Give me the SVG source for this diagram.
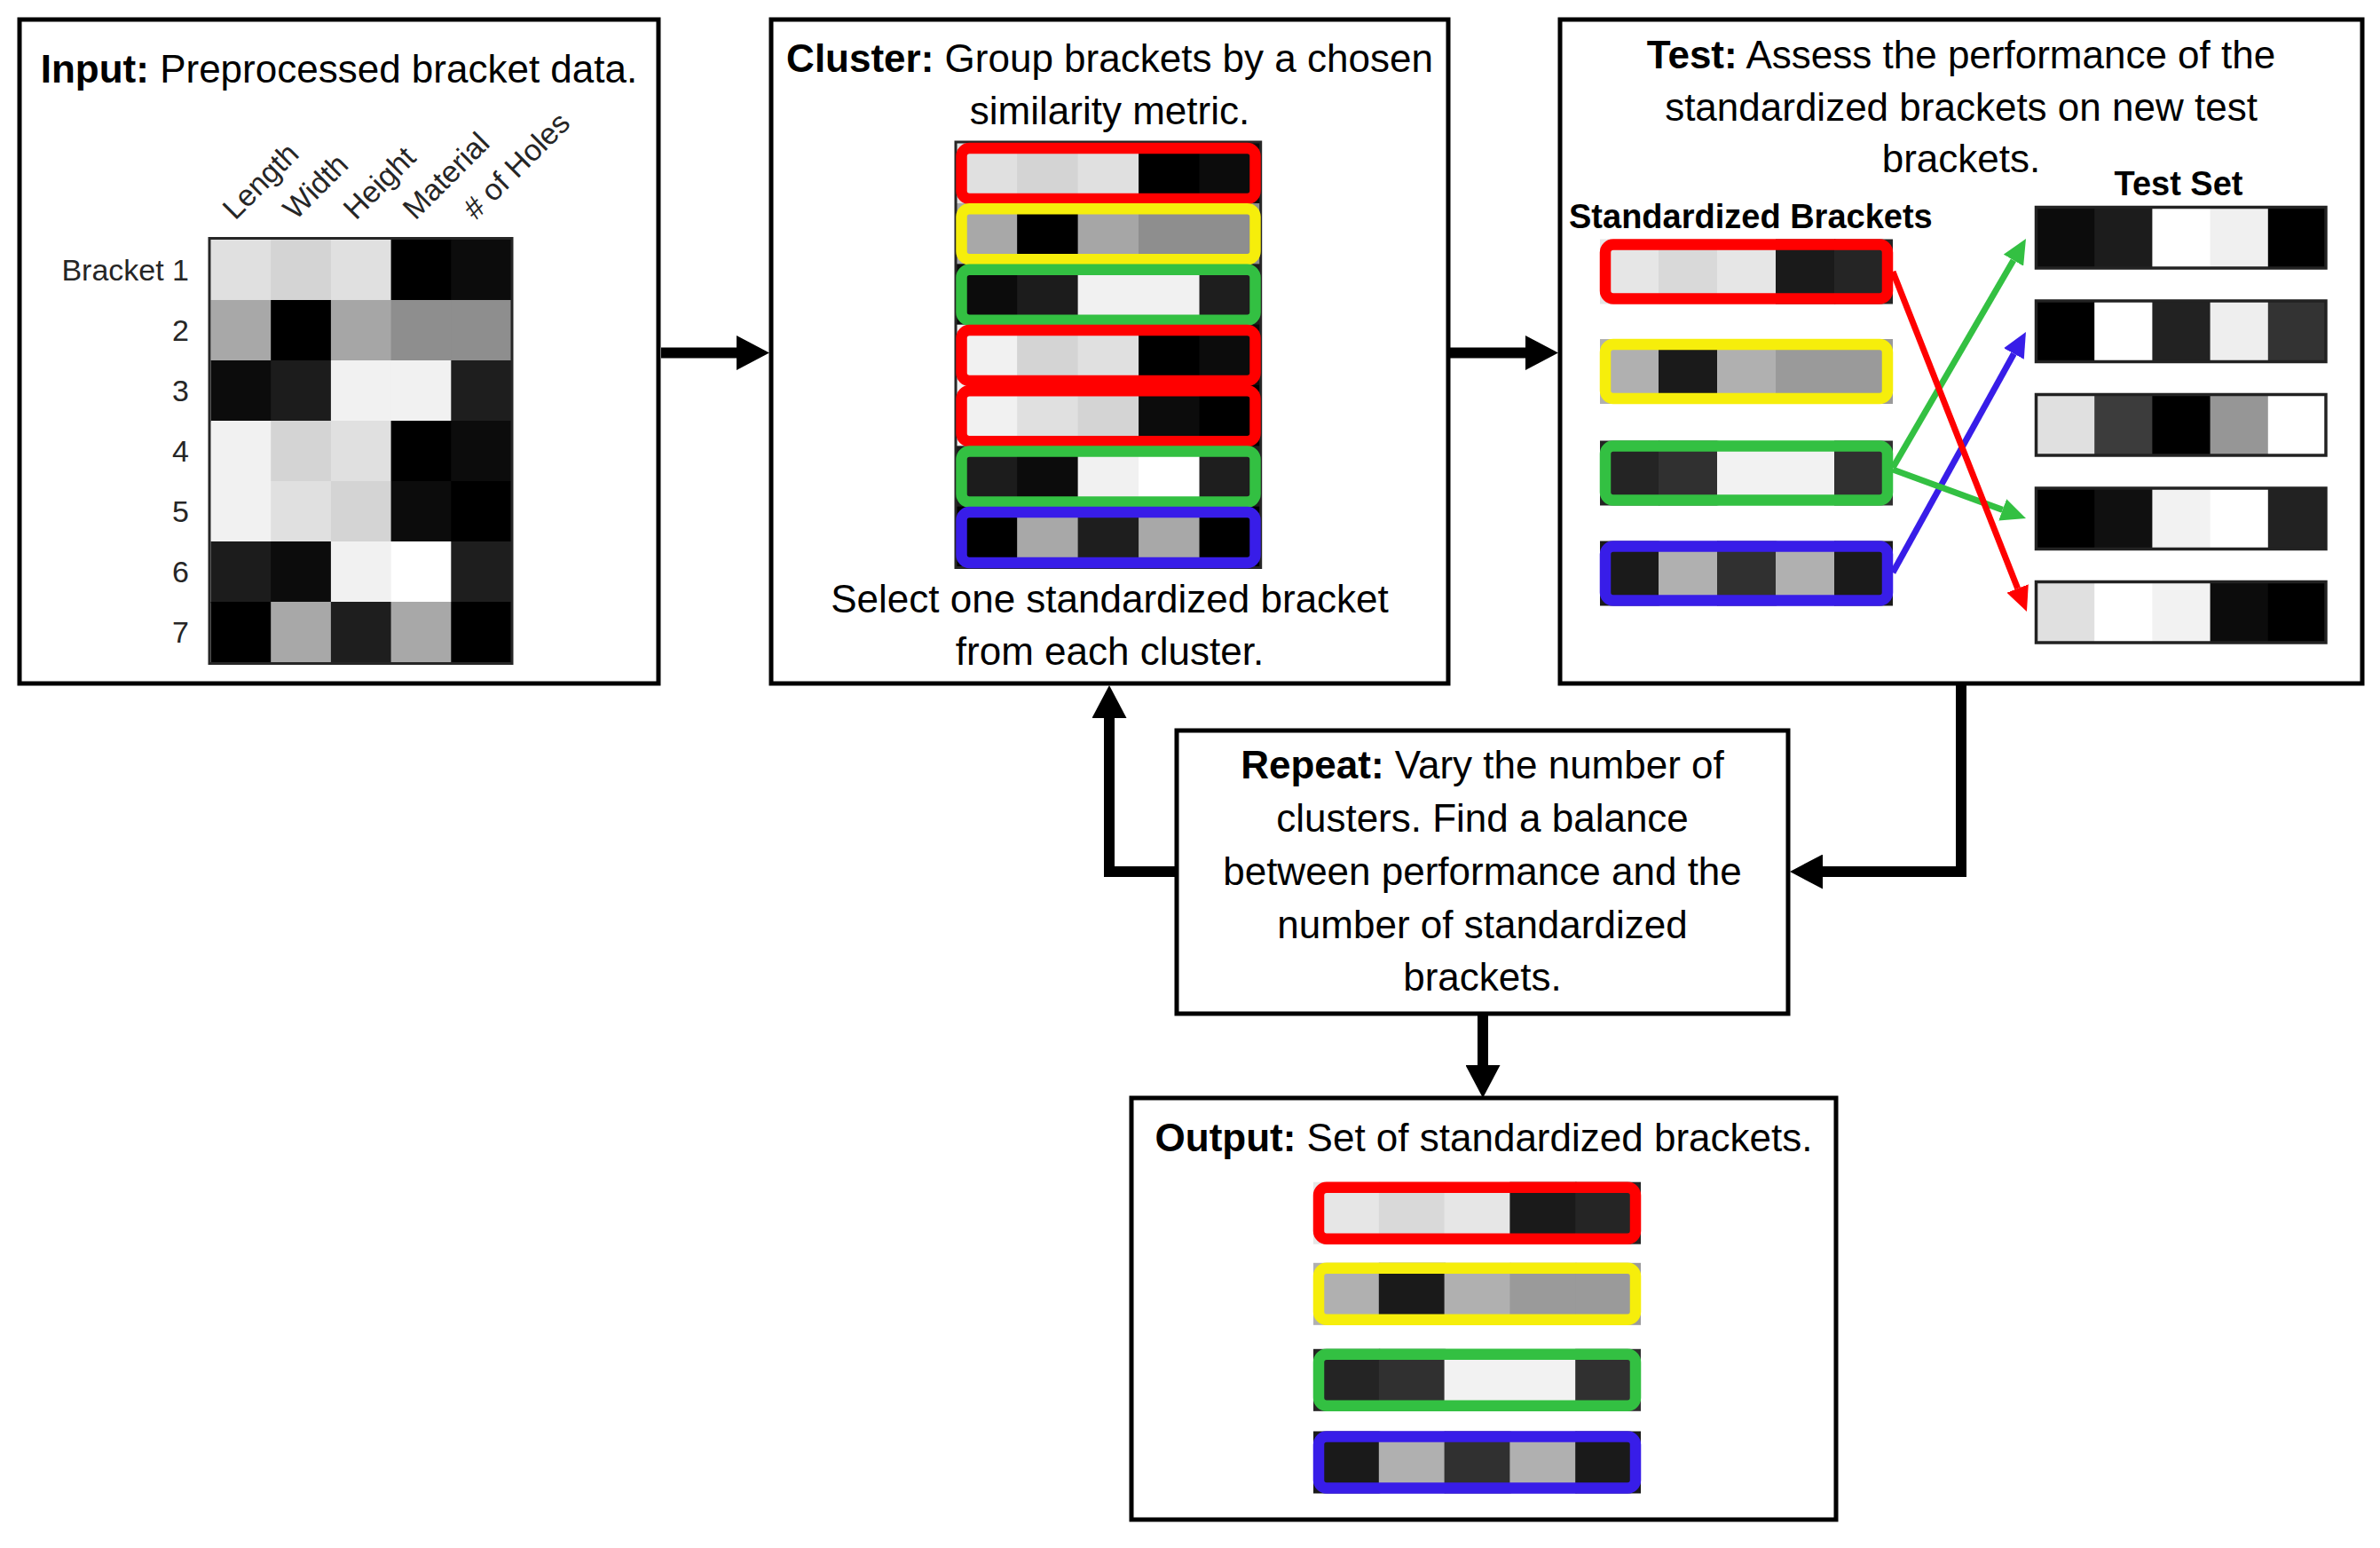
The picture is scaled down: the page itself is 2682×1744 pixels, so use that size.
<svg xmlns="http://www.w3.org/2000/svg" width="2682" height="1744" viewBox="0 0 2682 1744">
<style>
.box{fill:#fff;stroke:#000;stroke-width:5}
.t{font-family:'Liberation Sans',Arial,sans-serif;font-size:44px;fill:#000;text-anchor:middle}
.b{font-weight:bold}
.ax{font-family:'Liberation Sans',Arial,sans-serif;font-size:34px;fill:#262626}
.hdr{font-family:'Liberation Sans',Arial,sans-serif;font-size:38px;font-weight:bold;fill:#000}
.conn{fill:none;stroke:#000;stroke-width:12;stroke-linejoin:miter}
.ca{fill:none;stroke-width:7}
.ring{fill:none;stroke-width:12.5}
.ol{fill:none;stroke:#262626;stroke-width:3}
.tol{fill:none;stroke:#222;stroke-width:3.5}
</style>
<defs>
<marker id="ah" markerUnits="userSpaceOnUse" markerWidth="37" markerHeight="39" refX="0" refY="19.5" orient="auto"><path d="M0,0 L37,19.5 L0,39 z" fill="#000"/></marker>
<marker id="ahR" markerUnits="userSpaceOnUse" markerWidth="28" markerHeight="26" refX="0" refY="13" orient="auto"><path d="M0,0 L28,13 L0,26 z" fill="#ff0000"/></marker>
<marker id="ahG" markerUnits="userSpaceOnUse" markerWidth="28" markerHeight="26" refX="0" refY="13" orient="auto"><path d="M0,0 L28,13 L0,26 z" fill="#33c042"/></marker>
<marker id="ahB" markerUnits="userSpaceOnUse" markerWidth="28" markerHeight="26" refX="0" refY="13" orient="auto"><path d="M0,0 L28,13 L0,26 z" fill="#381de8"/></marker>
<g id="hm">
<rect x="0" y="0" width="1.02" height="1.02" fill="#e0e0e0"/><rect x="1" y="0" width="1.02" height="1.02" fill="#d4d4d4"/><rect x="2" y="0" width="1.02" height="1.02" fill="#e0e0e0"/><rect x="3" y="0" width="1.02" height="1.02" fill="#000"/><rect x="4" y="0" width="1" height="1.02" fill="#0c0c0c"/>
<rect x="0" y="1" width="1.02" height="1.02" fill="#a8a8a8"/><rect x="1" y="1" width="1.02" height="1.02" fill="#000"/><rect x="2" y="1" width="1.02" height="1.02" fill="#a6a6a6"/><rect x="3" y="1" width="1.02" height="1.02" fill="#8e8e8e"/><rect x="4" y="1" width="1" height="1.02" fill="#8e8e8e"/>
<rect x="0" y="2" width="1.02" height="1.02" fill="#0c0c0c"/><rect x="1" y="2" width="1.02" height="1.02" fill="#1c1c1c"/><rect x="2" y="2" width="1.02" height="1.02" fill="#f1f1f1"/><rect x="3" y="2" width="1.02" height="1.02" fill="#f1f1f1"/><rect x="4" y="2" width="1" height="1.02" fill="#1e1e1e"/>
<rect x="0" y="3" width="1.02" height="1.02" fill="#f1f1f1"/><rect x="1" y="3" width="1.02" height="1.02" fill="#d4d4d4"/><rect x="2" y="3" width="1.02" height="1.02" fill="#e0e0e0"/><rect x="3" y="3" width="1.02" height="1.02" fill="#000"/><rect x="4" y="3" width="1" height="1.02" fill="#0c0c0c"/>
<rect x="0" y="4" width="1.02" height="1.02" fill="#f1f1f1"/><rect x="1" y="4" width="1.02" height="1.02" fill="#e0e0e0"/><rect x="2" y="4" width="1.02" height="1.02" fill="#d4d4d4"/><rect x="3" y="4" width="1.02" height="1.02" fill="#0c0c0c"/><rect x="4" y="4" width="1" height="1.02" fill="#000"/>
<rect x="0" y="5" width="1.02" height="1.02" fill="#1c1c1c"/><rect x="1" y="5" width="1.02" height="1.02" fill="#0c0c0c"/><rect x="2" y="5" width="1.02" height="1.02" fill="#f1f1f1"/><rect x="3" y="5" width="1.02" height="1.02" fill="#fff"/><rect x="4" y="5" width="1" height="1.02" fill="#1e1e1e"/>
<rect x="0" y="6" width="1.02" height="1" fill="#000"/><rect x="1" y="6" width="1.02" height="1" fill="#a8a8a8"/><rect x="2" y="6" width="1.02" height="1" fill="#1e1e1e"/><rect x="3" y="6" width="1.02" height="1" fill="#a8a8a8"/><rect x="4" y="6" width="1" height="1" fill="#000"/>
</g>
<g id="sR"><rect x="0" y="0" width="1.02" height="1" fill="#e6e6e6"/><rect x="1" y="0" width="1.02" height="1" fill="#d9d9d9"/><rect x="2" y="0" width="1.02" height="1" fill="#e6e6e6"/><rect x="3" y="0" width="1.02" height="1" fill="#1a1a1a"/><rect x="4" y="0" width="1" height="1" fill="#252525"/></g>
<g id="sY"><rect x="0" y="0" width="1.02" height="1" fill="#b0b0b0"/><rect x="1" y="0" width="1.02" height="1" fill="#1a1a1a"/><rect x="2" y="0" width="1.02" height="1" fill="#b0b0b0"/><rect x="3" y="0" width="1.02" height="1" fill="#9a9a9a"/><rect x="4" y="0" width="1" height="1" fill="#9a9a9a"/></g>
<g id="sG"><rect x="0" y="0" width="1.02" height="1" fill="#242424"/><rect x="1" y="0" width="1.02" height="1" fill="#303030"/><rect x="2" y="0" width="1.02" height="1" fill="#f2f2f2"/><rect x="3" y="0" width="1.02" height="1" fill="#f2f2f2"/><rect x="4" y="0" width="1" height="1" fill="#303030"/></g>
<g id="sB"><rect x="0" y="0" width="1.02" height="1" fill="#1a1a1a"/><rect x="1" y="0" width="1.02" height="1" fill="#b0b0b0"/><rect x="2" y="0" width="1.02" height="1" fill="#303030"/><rect x="3" y="0" width="1.02" height="1" fill="#b0b0b0"/><rect x="4" y="0" width="1" height="1" fill="#1a1a1a"/></g>
<g id="t1"><rect x="0" y="0" width="1.02" height="1" fill="#0c0c0c"/><rect x="1" y="0" width="1.02" height="1" fill="#1c1c1c"/><rect x="2" y="0" width="1.02" height="1" fill="#fff"/><rect x="3" y="0" width="1.02" height="1" fill="#f0f0f0"/><rect x="4" y="0" width="1" height="1" fill="#000"/></g>
<g id="t2"><rect x="0" y="0" width="1.02" height="1" fill="#000"/><rect x="1" y="0" width="1.02" height="1" fill="#fff"/><rect x="2" y="0" width="1.02" height="1" fill="#222"/><rect x="3" y="0" width="1.02" height="1" fill="#eee"/><rect x="4" y="0" width="1" height="1" fill="#333"/></g>
<g id="t3"><rect x="0" y="0" width="1.02" height="1" fill="#e0e0e0"/><rect x="1" y="0" width="1.02" height="1" fill="#3c3c3c"/><rect x="2" y="0" width="1.02" height="1" fill="#000"/><rect x="3" y="0" width="1.02" height="1" fill="#969696"/><rect x="4" y="0" width="1" height="1" fill="#fff"/></g>
<g id="t4"><rect x="0" y="0" width="1.02" height="1" fill="#000"/><rect x="1" y="0" width="1.02" height="1" fill="#101010"/><rect x="2" y="0" width="1.02" height="1" fill="#f2f2f2"/><rect x="3" y="0" width="1.02" height="1" fill="#fff"/><rect x="4" y="0" width="1" height="1" fill="#222"/></g>
<g id="t5"><rect x="0" y="0" width="1.02" height="1" fill="#e0e0e0"/><rect x="1" y="0" width="1.02" height="1" fill="#fff"/><rect x="2" y="0" width="1.02" height="1" fill="#f2f2f2"/><rect x="3" y="0" width="1.02" height="1" fill="#0c0c0c"/><rect x="4" y="0" width="1" height="1" fill="#000"/></g>
</defs>
<rect width="2682" height="1744" fill="#fff"/>

<g id="node-input">
<rect class="box" x="22" y="22" width="720" height="748"/>
<text class="t" x="382" y="93"><tspan class="b">Input:</tspan> Preprocessed bracket data.</text>
<text class="ax" transform="translate(265,249) rotate(-45)">Length</text>
<text class="ax" transform="translate(333,249) rotate(-45)">Width</text>
<text class="ax" transform="translate(401,249) rotate(-45)">Height</text>
<text class="ax" transform="translate(468,249) rotate(-45)">Material</text>
<text class="ax" transform="translate(536,249) rotate(-45)"># of Holes</text>
<g class="ax" text-anchor="end">
<text x="213" y="316">Bracket 1</text>
<text x="213" y="384">2</text>
<text x="213" y="452">3</text>
<text x="213" y="520">4</text>
<text x="213" y="588">5</text>
<text x="213" y="656">6</text>
<text x="213" y="724">7</text>
</g>
<use href="#hm" transform="translate(237.5,270) scale(67.7,68)"/>
<rect class="ol" x="236" y="268.5" width="341" height="479"/>
</g>

<g id="node-cluster">
<rect class="box" x="869" y="22" width="763" height="748"/>
<text class="t" x="1250.5" y="81"><tspan class="b">Cluster:</tspan> Group brackets by a chosen</text>
<text class="t" x="1250.5" y="140">similarity metric.</text>
<use href="#hm" transform="translate(1077.7,160.7) scale(68.46,68.33)"/>
<rect class="ol" x="1077" y="160" width="343.7" height="479.5"/>
<rect class="ring" x="1083.5" y="167" width="331" height="57" rx="9" stroke="#ff0000"/>
<rect class="ring" x="1083.5" y="235.3" width="331" height="57" rx="9" stroke="#f6ee0b"/>
<rect class="ring" x="1083.5" y="303.7" width="331" height="57" rx="9" stroke="#33c042"/>
<rect class="ring" x="1083.5" y="372" width="331" height="57" rx="9" stroke="#ff0000"/>
<rect class="ring" x="1083.5" y="440.3" width="331" height="57" rx="9" stroke="#ff0000"/>
<rect class="ring" x="1083.5" y="508.6" width="331" height="57" rx="9" stroke="#33c042"/>
<rect class="ring" x="1083.5" y="577" width="331" height="57" rx="9" stroke="#381de8"/>
<text class="t" x="1250.5" y="690">Select one standardized bracket</text>
<text class="t" x="1250.5" y="749">from each cluster.</text>
</g>

<g id="node-test">
<rect class="box" x="1758" y="22" width="904" height="748"/>
<text class="t" x="2210" y="77"><tspan class="b">Test:</tspan> Assess the performance of the</text>
<text class="t" x="2210" y="136">standardized brackets on new test</text>
<text class="t" x="2210" y="194">brackets.</text>
<text class="hdr" x="1768" y="257">Standardized Brackets</text>
<text class="hdr" x="2455" y="220" text-anchor="middle">Test Set</text>
<use href="#sR" transform="translate(1803,269.5) scale(66,73)"/>
<use href="#sY" transform="translate(1803,382) scale(66,73)"/>
<use href="#sG" transform="translate(1803,496.5) scale(66,73)"/>
<use href="#sB" transform="translate(1803,609.5) scale(66,73)"/>
<rect class="ring" x="1809" y="275.5" width="318" height="61" rx="9" stroke="#ff0000"/>
<rect class="ring" x="1809" y="388" width="318" height="61" rx="9" stroke="#f6ee0b"/>
<rect class="ring" x="1809" y="502.5" width="318" height="61" rx="9" stroke="#33c042"/>
<rect class="ring" x="1809" y="615.5" width="318" height="61" rx="9" stroke="#381de8"/>
<use href="#t1" transform="translate(2295,234) scale(65.2,67)"/>
<use href="#t2" transform="translate(2295,339.5) scale(65.2,67)"/>
<use href="#t3" transform="translate(2295,445) scale(65.2,67)"/>
<use href="#t4" transform="translate(2295,550.5) scale(65.2,67)"/>
<use href="#t5" transform="translate(2295,656) scale(65.2,67)"/>
<rect class="tol" x="2294.5" y="233.5" width="326.5" height="68.5"/>
<rect class="tol" x="2294.5" y="339" width="326.5" height="68.5"/>
<rect class="tol" x="2294.5" y="444.5" width="326.5" height="68.5"/>
<rect class="tol" x="2294.5" y="550" width="326.5" height="68.5"/>
<rect class="tol" x="2294.5" y="655.5" width="326.5" height="68.5"/>
</g>

<g id="node-repeat">
<rect class="box" x="1326" y="823" width="689" height="319"/>
<text class="t" x="1670.5" y="877"><tspan class="b">Repeat:</tspan> Vary the number of</text>
<text class="t" x="1670.5" y="937">clusters. Find a balance</text>
<text class="t" x="1670.5" y="997">between performance and the</text>
<text class="t" x="1670.5" y="1057">number of standardized</text>
<text class="t" x="1670.5" y="1116">brackets.</text>
</g>

<g id="node-output">
<rect class="box" x="1275" y="1237" width="794" height="475"/>
<text class="t" x="1672" y="1297"><tspan class="b">Output:</tspan> Set of standardized brackets.</text>
<use href="#sR" transform="translate(1480,1331.7) scale(73.8,70)"/>
<use href="#sY" transform="translate(1480,1422.8) scale(73.8,70)"/>
<use href="#sG" transform="translate(1480,1519.8) scale(73.8,70)"/>
<use href="#sB" transform="translate(1480,1612.5) scale(73.8,70)"/>
<rect class="ring" x="1486" y="1337.7" width="357" height="58" rx="9" stroke="#ff0000"/>
<rect class="ring" x="1486" y="1428.8" width="357" height="58" rx="9" stroke="#f6ee0b"/>
<rect class="ring" x="1486" y="1525.8" width="357" height="58" rx="9" stroke="#33c042"/>
<rect class="ring" x="1486" y="1618.5" width="357" height="58" rx="9" stroke="#381de8"/>
</g>

<g id="connectors">
<path class="conn" d="M745,397.5 H830" marker-end="url(#ah)"/>
<path class="conn" d="M1634,397.5 H1719" marker-end="url(#ah)"/>
<path class="conn" d="M2210,772 V982 H2054" marker-end="url(#ah)"/>
<path class="conn" d="M1328,982 H1250 V809" marker-end="url(#ah)"/>
<path class="conn" d="M1671,1144 V1200" marker-end="url(#ah)"/>
<g id="test-links">
<path class="ca" stroke="#381de8" d="M2133,645 L2269.4,398.5" marker-end="url(#ahB)"/>
<path class="ca" stroke="#33c042" d="M2133,527 L2268.9,293.2" marker-end="url(#ahG)"/>
<path class="ca" stroke="#33c042" d="M2133,529 L2256.7,574.4" marker-end="url(#ahG)"/>
<path class="ca" stroke="#ff0000" d="M2133,306 L2273.7,663" marker-end="url(#ahR)"/>
</g>
</g>
</svg>
